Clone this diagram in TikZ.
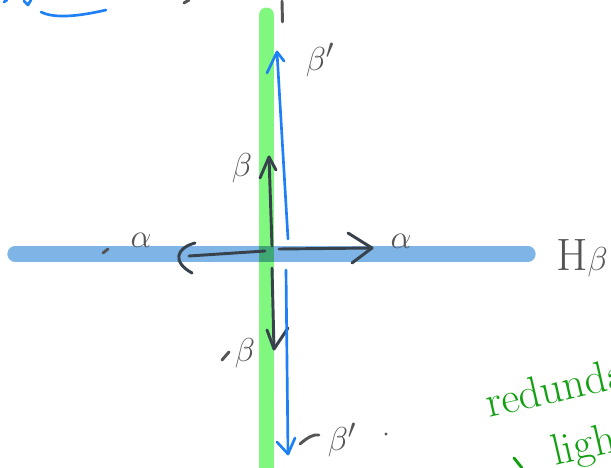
\documentclass[tikz,border=0pt]{standalone}
\usetikzlibrary{calc}
\definecolor{penGray}{HTML}{38424C}
\definecolor{txtGray}{HTML}{555555}
\definecolor{penBlue}{HTML}{1E80F5}
\definecolor{barGreen}{HTML}{80F880}
\definecolor{barBlue}{HTML}{7EB4E6}
\definecolor{barBoth}{HTML}{3FA874}
\definecolor{inkGreen}{HTML}{12A012}
\tikzset{
  greenbar/.style={draw=barGreen, line width=11.25pt, line cap=round},
  bluebar/.style={draw=barBlue, line width=11.5pt, line cap=round},
  graypen/.style={draw=penGray, line width=2.2pt, line cap=round, line join=round},
  bluepen/.style={draw=penBlue, line width=2pt, line cap=round, line join=round},
  grayink/.style={draw=txtGray, line width=2.2pt, line cap=round},
  lbl/.style={text=txtGray, inner sep=0pt, font=\fontsize{32}{36}\selectfont},
  greenlbl/.style={text=inkGreen, inner sep=0pt, font=\fontsize{33}{36}\selectfont, rotate=13, anchor=base west}
}
\begin{document}
\begin{tikzpicture}[x=0.75pt,y=-0.75pt]
\useasboundingbox (0,0) rectangle (611,468);
\clip (0,0) rectangle (611,468);
% thick bars
\coordinate (gTop) at (266.5,15);
\coordinate (gBot) at (266.5,490);
\coordinate (hL) at (15,254);
\coordinate (hR) at (528,254);
\draw[bluebar] (hL) -- (hR);
\draw[greenbar] (gTop) -- (gBot);
\fill[barBoth] (259,246.3) rectangle (274,261.7);
% gray arrows
\coordinate (O1) at (272,246);
\coordinate (bTip) at (269,157);
\draw[graypen] (O1) -- (bTip);
\draw[graypen] (260,178) -- (bTip) -- (276,170);
\coordinate (O2) at (272,268);
\coordinate (mbTip) at (274,349);
\draw[graypen] (O2) -- (mbTip);
\draw[graypen] (267,330) -- (mbTip) -- (288,328);
\coordinate (O3) at (279,249);
\coordinate (aTip) at (372,248);
\draw[graypen] (O3) -- (aTip);
\draw[graypen] (348,233) -- (aTip) -- (352,263);
\coordinate (O4) at (265,251);
\coordinate (maTip) at (189,256);
\draw[graypen] (O4) -- (maTip);
\draw[graypen] (195,243) .. controls (176,248) and (172,262) .. (192,273);
% blue arrows
\coordinate (B1) at (288,239);
\coordinate (bpTip) at (277,52);
\draw[bluepen] (B1) -- (bpTip);
\draw[bluepen] (267,73) -- (bpTip) -- (284,61);
\coordinate (B2) at (286,270);
\coordinate (mbpTip) at (288,454);
\draw[bluepen] (B2) -- (mbpTip);
\draw[bluepen] (277,442) -- (mbpTip) -- (295,438);
% labels
\node[lbl] (lb) at (242,168) {$\beta$};
\node[lbl] (lbp) at (320,60) {$\beta'$};
\node[lbl] (la) at (401,241) {$\alpha$};
\node[lbl] (lma) at (141,240) {$\alpha$};
\draw[grayink] (103,253) -- (108,249);
\node[lbl] (lmb) at (245,353) {$\beta$};
\draw[grayink] (222,360) -- (229,352);
\node[lbl] (lmbp) at (342,440) {$\beta'$};
\draw[grayink] (300,444) .. controls (308,437) and (314,434) .. (319,435);
\fill[txtGray] (386,434) circle (1.6);
\node[lbl, anchor=west, font=\fontsize{34}{38}\selectfont] (lH) at (556,258) {H$\beta$};
% top partial scribbles
\draw[grayink] (282,1) -- (282.5,22);
\draw[grayink] (184,3) -- (189,0);
\draw[bluepen] (41,12) .. controls (55,19) and (80,16) .. (106,10);
\draw[bluepen] (4,2) -- (7,0);
\draw[bluepen] (24,1) -- (28,5) -- (31,0);
% green notes
\node[greenlbl] (red) at (489,418) {redunda};
\node[greenlbl] (lig) at (555,466) {ligh};
\draw[draw=inkGreen, line width=2.2pt, line cap=round] (514,458) -- (522,468);
\end{tikzpicture}
\end{document}
